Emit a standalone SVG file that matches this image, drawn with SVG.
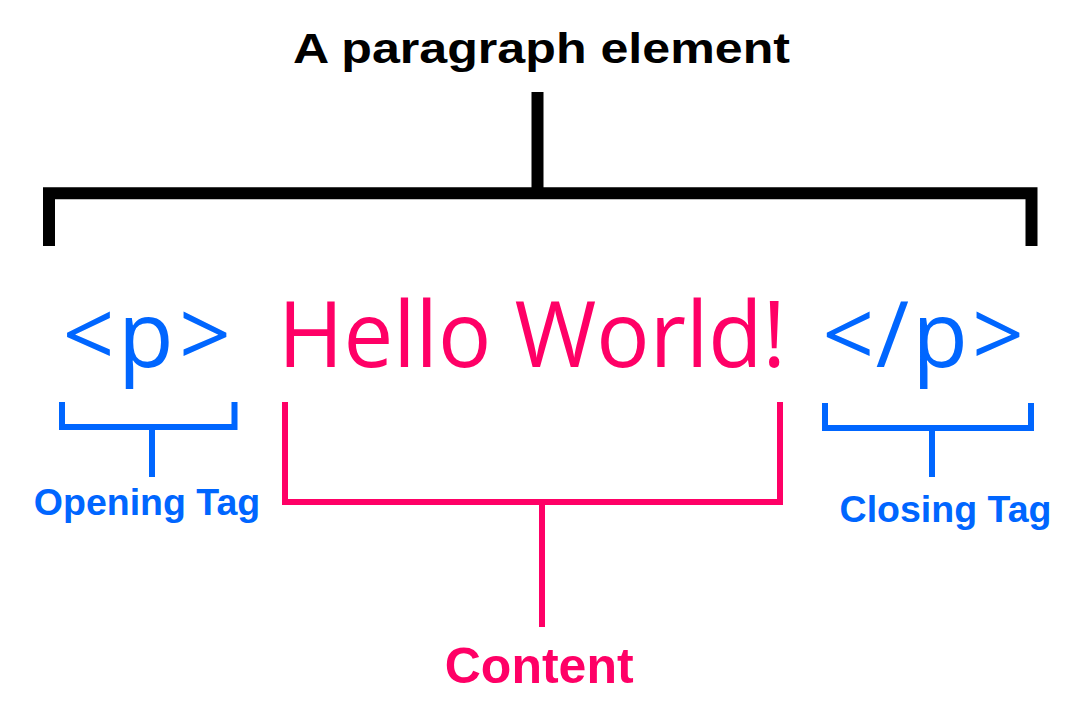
<svg xmlns="http://www.w3.org/2000/svg" width="1086" height="724" viewBox="0 0 1086 724">
<style>
.lbl{font-family:"Liberation Sans",Arial,sans-serif;font-weight:bold}
.code{font-family:"Open Sans","Noto Sans",sans-serif;font-size:91px}
.blue{fill:#0066ff}
.pink{fill:#ff0066}
.bk{fill:none;stroke:#000;stroke-width:12;stroke-linejoin:miter;stroke-linecap:butt}
.bb{fill:none;stroke:#0066ff;stroke-width:6;stroke-linejoin:miter;stroke-linecap:butt}
.pb{fill:none;stroke:#ff0066;stroke-width:6;stroke-linejoin:miter;stroke-linecap:butt}
</style>
<rect width="1086" height="724" fill="#fff"/>
<g id="connectors">
<path class="bk" d="M49,246 V193.3 H1031.5 V246"/>
<path class="bk" d="M537.5,92 V193"/>
<path class="bb" d="M62,402 V427 H234.5 V402"/>
<path class="bb" d="M152,427 V477"/>
<path class="pb" d="M285,402 V502 H780 V402"/>
<path class="pb" d="M542,502 V627"/>
<path class="bb" d="M825,403 V428 H1031 V403"/>
<path class="bb" d="M932,428 V477"/>
</g>
<g id="title">
<text class="lbl" x="293" y="63.3" font-size="43" textLength="497" lengthAdjust="spacingAndGlyphs">A paragraph element</text>
</g>
<g id="opening-tag">
<text class="code blue" x="62.6 118 178.9" y="367">&lt;p&gt;</text>
<text class="lbl blue" x="147" y="515" font-size="37.5" text-anchor="middle">Opening Tag</text>
</g>
<g id="content">
<text class="code pink" x="278" y="367" textLength="508" lengthAdjust="spacingAndGlyphs">Hello World!</text>
<text class="lbl pink" x="539.2" y="683.3" font-size="50" text-anchor="middle">Content</text>
</g>
<g id="closing-tag">
<text class="code blue" x="822.2 875.8 912.3 972" y="367">&lt;/p&gt;</text>
<text class="lbl blue" x="945.5" y="521.7" font-size="37.5" text-anchor="middle">Closing Tag</text>
</g>
</svg>
